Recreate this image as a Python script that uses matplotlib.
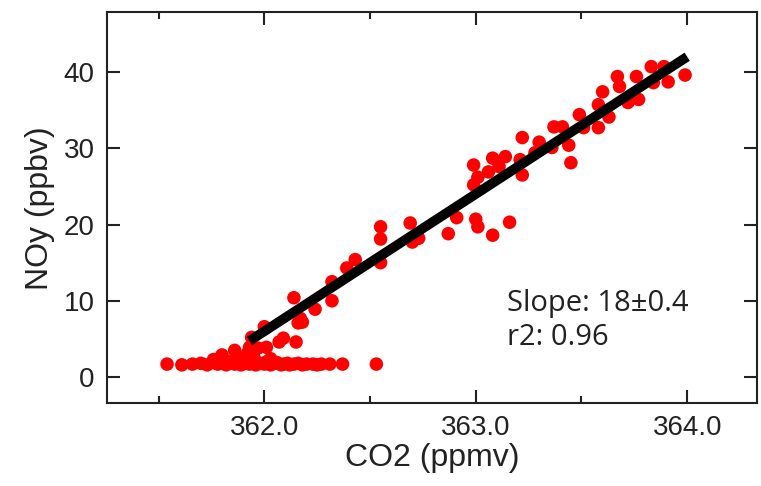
import numpy as np
import matplotlib
matplotlib.use('Agg')
from matplotlib import pyplot as plt
from matplotlib.ticker import MultipleLocator

# CO2 (ppmv) vs NOy (ppbv)
co2 = [361.54, 361.61, 361.66, 361.70, 361.73, 361.76, 361.78, 361.80, 361.82, 361.84,
       361.86, 361.87, 361.89, 361.90, 361.92, 361.93, 361.95, 361.96, 361.98, 362.00,
       362.01, 362.03, 362.05, 362.06, 362.08, 362.09, 362.11, 362.12, 362.14, 362.16,
       362.18, 362.20, 362.23, 362.25, 362.27, 362.31, 362.37, 362.53,
       361.80, 361.86, 361.92, 361.93, 361.97, 362.01, 361.88, 361.95, 362.03, 361.76,
       361.94, 362.00, 362.07, 362.09, 362.15, 362.16, 362.18, 362.17, 362.24, 362.14,
       362.32, 362.32, 362.39, 362.43, 362.55, 362.55, 362.55, 362.69, 362.70, 362.73,
       362.87, 362.91, 363.00, 363.01, 363.08, 363.16, 362.99, 363.01, 362.99, 363.06,
       363.08, 363.11, 363.14, 363.21, 363.22, 363.22, 363.30, 363.28, 363.37, 363.41,
       363.36, 363.44, 363.45, 363.49, 363.51, 363.58, 363.58, 363.60, 363.63, 363.67,
       363.68, 363.72, 363.76, 363.77, 363.83, 363.84, 363.89, 363.91, 363.99]
noy = [1.7, 1.6, 1.7, 1.8, 1.6, 1.9, 1.7, 1.8, 1.6, 2.0,
       1.7, 1.9, 1.6, 2.1, 1.8, 1.7, 2.0, 1.6, 1.8, 1.7,
       2.0, 1.6, 1.8, 1.9, 1.6, 1.7, 1.8, 1.6, 1.7, 1.8,
       1.6, 1.7, 1.7, 1.6, 1.7, 1.7, 1.7, 1.7,
       2.9, 3.5, 3.1, 3.9, 3.8, 3.9, 2.4, 2.6, 2.4, 2.3,
       5.2, 6.6, 4.6, 5.1, 4.6, 7.1, 7.2, 7.7, 8.9, 10.4,
       10.0, 12.5, 14.3, 15.4, 15.0, 19.7, 18.1, 20.2, 17.7, 18.2,
       18.8, 20.9, 20.7, 19.7, 18.6, 20.3, 25.2, 26.2, 27.8, 26.9,
       28.7, 27.6, 28.9, 28.5, 26.5, 31.4, 30.8, 29.4, 32.8, 32.8,
       30.1, 30.4, 28.1, 34.4, 32.7, 32.7, 35.7, 37.4, 34.1, 39.4,
       38.1, 36.0, 39.4, 36.4, 40.7, 38.6, 40.7, 38.7, 39.6]

# fitted line end points
fit_co2 = [361.93, 364.0]
fit_noy = [4.74, 42.0]

fig = plt.figure(figsize=(7.61, 4.86), dpi=100)
ax = fig.add_axes([0.1406, 0.1708, 0.8541, 0.8035])

ax.scatter(co2, noy, s=95, color='#ff0000', edgecolors='none', zorder=2)
ax.plot(fit_co2, fit_noy, color='black', lw=7, solid_capstyle='butt', zorder=3)

ax.set_xlim(361.256, 364.33)
ax.set_ylim(-3.4, 47.8)
ax.xaxis.set_major_locator(MultipleLocator(1.0))
ax.xaxis.set_minor_locator(MultipleLocator(0.5))
ax.yaxis.set_major_locator(MultipleLocator(10))
ax.set_xticks([362.0, 363.0, 364.0], ['362.0', '363.0', '364.0'])

for s in ax.spines.values():
    s.set_linewidth(1.5)
    s.set_color('#222222')
ax.tick_params(which='both', direction='in', top=True, right=True, width=1.5,
               labelsize=20, pad=9, colors='#222222')
ax.tick_params(which='major', length=9.5)
ax.tick_params(which='minor', length=5)
for lab in ax.get_xticklabels() + ax.get_yticklabels():
    lab.set_family('Liberation Sans')

ax.set_xlabel('CO2 (ppmv)', fontsize=23, family='Liberation Sans', labelpad=1, color='#222222')
ax.set_ylabel('NOy (ppbv)', fontsize=23, family='Liberation Sans', labelpad=6, color='#222222')

ax.text(363.15, 9.6, 'Slope: 18\u00b10.4', fontsize=21, family='Open Sans',
        va='center', color='#222222')
ax.text(363.15, 5.2, 'r2: 0.96', fontsize=21, family='Open Sans',
        va='center', color='#222222')

fig.savefig('out.png', dpi=100)
